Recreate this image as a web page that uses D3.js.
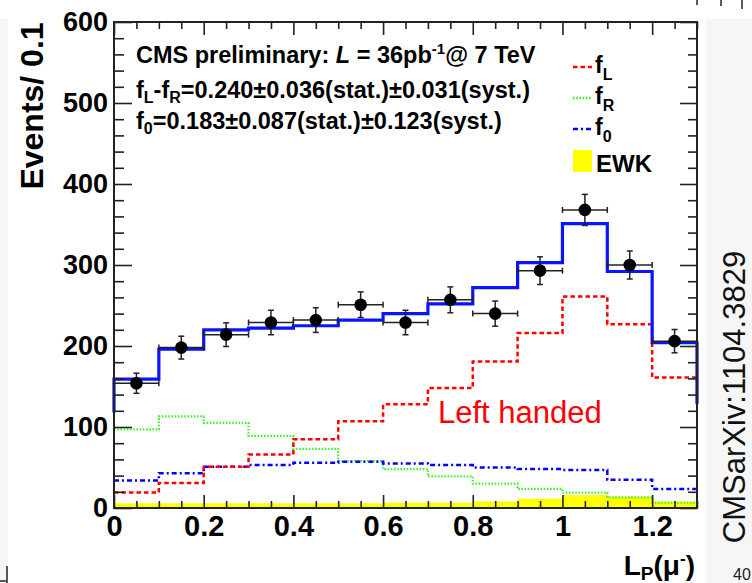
<!DOCTYPE html>
<html>
<head>
<meta charset="utf-8">
<script src="https://cdn.jsdelivr.net/npm/d3@7"></script>
<style>
  html, body { margin: 0; padding: 0; background: #fff; }
  svg { display: block; font-family: "Liberation Sans", Arial, Helvetica, sans-serif; }
</style>
</head>
<body>
<svg id="chart" width="752" height="583"></svg>
<script>
// Bin lower edges of L_P(mu-) (bin width 0.1)
const binEdges = [0, 0.1, 0.2, 0.3, 0.4, 0.5, 0.6, 0.7, 0.8, 0.9, 1.0, 1.1, 1.2];
const binWidth = 0.1;

// Observed events per bin and their statistical errors
const dataValues = [154, 198, 214, 229, 232, 251, 229, 257, 240, 293, 368, 300, 206];
const dataErrors = [12.4, 14.1, 14.6, 15.1, 15.2, 15.8, 15.1, 16.0, 15.5, 17.1, 19.2, 17.3, 14.4];

// Total fitted template, plus the out-of-range neighbours it connects to
const totalValues = [159, 196, 220, 222, 225, 232, 240, 252, 272, 303, 351, 292, 204];
const totalUnderflow = 118;
const totalOverflow = 128;

// Helicity components and electroweak background
const fLValues = [19, 31, 51, 66, 85, 107, 128, 148, 181, 216, 261, 227, 161];
const fRValues = [97, 113, 105, 89, 73, 58, 48, 39, 30, 23.5, 19, 13, 6.5];
const f0Values = [34, 43, 51, 53, 56, 57, 55, 53, 50, 48, 47, 35, 23.5];
const ewkValues = [6, 6, 6, 6, 6, 6, 6.5, 6.5, 8, 11.5, 16, 14, 8];

// Axis ticks
const xMajorTicks = [0, 0.2, 0.4, 0.6, 0.8, 1.0, 1.2];
const xTickLabels = ["0", "0.2", "0.4", "0.6", "0.8", "1", "1.2"];
const yMajorTicks = [0, 100, 200, 300, 400, 500, 600];
const yTickLabels = ["0", "100", "200", "300", "400", "500", "600"];

const svg = d3.select("#chart");
const W = 752, H = 583;
const plot = { left: 114, right: 697, top: 22, bottom: 508 };

const x = d3.scaleLinear().domain([0, 1.3]).range([plot.left, plot.right]);
const y = d3.scaleLinear().domain([0, 600]).range([plot.bottom, plot.top]);

// page furniture: light side strips
svg.append("rect").attr("x", 0).attr("y", 0).attr("width", W).attr("height", H).attr("fill", "#fff");
svg.append("rect").attr("x", 706).attr("y", 19).attr("width", 46).attr("height", H - 19).attr("fill", "#f6f6f6");
svg.append("rect").attr("x", 0).attr("y", 19).attr("width", 8).attr("height", H - 19).attr("fill", "#f6f6f6");
// small cut marks at the page edges
const marks = svg.append("g").attr("stroke", "#222").attr("stroke-width", 1.5);
marks.append("line").attr("x1", 697).attr("x2", 697).attr("y1", 0).attr("y2", 5);
marks.append("line").attr("x1", 721).attr("x2", 721).attr("y1", 0).attr("y2", 6);
marks.append("line").attr("x1", 742).attr("x2", 742).attr("y1", 0).attr("y2", 9);
marks.append("line").attr("x1", 7).attr("x2", 7).attr("y1", 566).attr("y2", 583);
marks.append("line").attr("x1", 0).attr("x2", 6).attr("y1", 581).attr("y2", 581);

// step-shaped histogram points: one point per bin edge, last bin closed at 1.3
function stepPoints(values) {
  const pts = values.map((v, i) => [binEdges[i], v]);
  pts.push([binEdges[binEdges.length - 1] + binWidth, values[values.length - 1]]);
  return pts;
}
const stepLine = d3.line().x(d => x(d[0])).y(d => y(d[1])).curve(d3.curveStepAfter);
const stepArea = d3.area().x(d => x(d[0])).y0(y(0)).y1(d => y(d[1])).curve(d3.curveStepAfter);

const g = svg.append("g");

// EWK background (filled)
g.append("path").attr("d", stepArea(stepPoints(ewkValues)))
  .attr("fill", "#ffff00").attr("stroke", "none");

// helicity components
g.append("path").attr("d", stepLine(stepPoints(fRValues)))
  .attr("fill", "none").attr("stroke", "#44ee33").attr("stroke-width", 2.2)
  .attr("stroke-dasharray", "1.6,1.6");
g.append("path").attr("d", stepLine(stepPoints(f0Values)))
  .attr("fill", "none").attr("stroke", "#0000ff").attr("stroke-width", 2.5)
  .attr("stroke-dasharray", "5,3,2,3");
g.append("path").attr("d", stepLine(stepPoints(fLValues)))
  .attr("fill", "none").attr("stroke", "#ff0000").attr("stroke-width", 2.5)
  .attr("stroke-dasharray", "4.5,3");

// total template
const totalPts = [[0, totalUnderflow]].concat(stepPoints(totalValues));
totalPts.push([1.3, totalOverflow]);
g.append("path").attr("d", stepLine(totalPts))
  .attr("fill", "none").attr("stroke", "#0a14ff").attr("stroke-width", 3.2);

// data points with error bars
const pts = g.append("g");
dataValues.forEach((v, i) => {
  const cx = x(binEdges[i] + binWidth / 2);
  const cy = y(v);
  const e = dataErrors[i];
  const eb = pts.append("g").attr("stroke", "#222").attr("stroke-width", 1.5);
  eb.append("line").attr("x1", x(binEdges[i])).attr("x2", x(binEdges[i] + binWidth)).attr("y1", cy).attr("y2", cy);
  eb.append("line").attr("x1", cx).attr("x2", cx).attr("y1", y(v + e)).attr("y2", y(v - e));
  eb.append("line").attr("x1", cx - 3).attr("x2", cx + 3).attr("y1", y(v + e)).attr("y2", y(v + e));
  eb.append("line").attr("x1", cx - 3).attr("x2", cx + 3).attr("y1", y(v - e)).attr("y2", y(v - e));
  eb.append("line").attr("x1", x(binEdges[i])).attr("x2", x(binEdges[i])).attr("y1", cy - 3).attr("y2", cy + 3);
  eb.append("line").attr("x1", x(binEdges[i] + binWidth)).attr("x2", x(binEdges[i] + binWidth)).attr("y1", cy - 3).attr("y2", cy + 3);
  pts.append("circle").attr("cx", cx).attr("cy", cy).attr("r", 6.3).attr("fill", "#000");
});

// axes: ticks pointing inward on all four sides
const xMinor = d3.range(0, 1.3001, 0.05).map(d => +d.toFixed(2)).filter(d => !xMajorTicks.some(t => Math.abs(t - d) < 1e-6));
const yMinor = d3.range(0, 600.1, 20).filter(d => d % 100 !== 0);

function styleAxis(sel) {
  sel.select(".domain").remove();
  sel.selectAll("line").attr("stroke", "#222").attr("stroke-width", 1.6);
}

const xAxisB = svg.append("g").attr("transform", `translate(0,${plot.bottom})`)
  .call(d3.axisBottom(x).tickValues(xMajorTicks).tickSize(-13).tickPadding(7)
    .tickFormat((d, i) => xTickLabels[i]));
styleAxis(xAxisB);
xAxisB.selectAll("text").attr("font-size", 29).attr("font-weight", "bold")
  .attr("font-family", "'Liberation Sans', Arial, sans-serif").attr("fill", "#000");
const xAxisBm = svg.append("g").attr("transform", `translate(0,${plot.bottom})`)
  .call(d3.axisBottom(x).tickValues(xMinor).tickSize(-7).tickFormat(""));
styleAxis(xAxisBm);
const xAxisT = svg.append("g").attr("transform", `translate(0,${plot.top})`)
  .call(d3.axisTop(x).tickValues(xMajorTicks).tickSize(-13).tickFormat(""));
styleAxis(xAxisT);
const xAxisTm = svg.append("g").attr("transform", `translate(0,${plot.top})`)
  .call(d3.axisTop(x).tickValues(xMinor).tickSize(-7).tickFormat(""));
styleAxis(xAxisTm);

const yAxisL = svg.append("g").attr("transform", `translate(${plot.left},0)`)
  .call(d3.axisLeft(y).tickValues(yMajorTicks).tickSize(-18).tickPadding(6)
    .tickFormat((d, i) => yTickLabels[i]));
styleAxis(yAxisL);
yAxisL.selectAll("text").attr("font-size", 27).attr("font-weight", "bold")
  .attr("font-family", "'Liberation Sans', Arial, sans-serif").attr("fill", "#000");
const yAxisLm = svg.append("g").attr("transform", `translate(${plot.left},0)`)
  .call(d3.axisLeft(y).tickValues(yMinor).tickSize(-10).tickFormat(""));
styleAxis(yAxisLm);
const yAxisR = svg.append("g").attr("transform", `translate(${plot.right},0)`)
  .call(d3.axisRight(y).tickValues(yMajorTicks).tickSize(-17).tickFormat(""));
styleAxis(yAxisR);
const yAxisRm = svg.append("g").attr("transform", `translate(${plot.right},0)`)
  .call(d3.axisRight(y).tickValues(yMinor).tickSize(-9).tickFormat(""));
styleAxis(yAxisRm);

// frame
svg.append("rect").attr("x", plot.left).attr("y", plot.top)
  .attr("width", plot.right - plot.left).attr("height", plot.bottom - plot.top)
  .attr("fill", "none").attr("stroke", "#222").attr("stroke-width", 2);

// axis titles
svg.append("text").attr("transform", "translate(43,106) rotate(-90)")
  .attr("text-anchor", "middle").attr("font-size", 32).attr("font-weight", "bold")
  .text("Events/ 0.1");

const xt = svg.append("text").attr("x", 695).attr("y", 575).attr("text-anchor", "end")
  .attr("font-size", 28).attr("font-weight", "bold");
xt.append("tspan").text("L");
xt.append("tspan").attr("font-size", 19).attr("dy", 5).text("P");
xt.append("tspan").attr("dy", -5).text("(\u03bc");
xt.append("tspan").attr("font-size", 17).attr("dy", -11).text("-");
xt.append("tspan").attr("dy", 11).text(")");

// fit result annotations
const t1 = svg.append("text").attr("x", 136).attr("y", 63).attr("font-size", 23.5).attr("font-weight", "bold");
t1.append("tspan").text("CMS preliminary: ");
t1.append("tspan").attr("font-style", "italic").text("L");
t1.append("tspan").text(" = 36pb");
t1.append("tspan").attr("font-size", 15).attr("dy", -9).text("-1");
t1.append("tspan").attr("dy", 9).text("@ 7 TeV");

const t2 = svg.append("text").attr("x", 136).attr("y", 98).attr("font-size", 23.5).attr("font-weight", "bold");
t2.append("tspan").text("f");
t2.append("tspan").attr("font-size", 16).attr("dy", 5).text("L");
t2.append("tspan").attr("dy", -5).text("-f");
t2.append("tspan").attr("font-size", 16).attr("dy", 5).text("R");
t2.append("tspan").attr("dy", -5).text("=0.240\u00b10.036(stat.)\u00b10.031(syst.)");

const t3 = svg.append("text").attr("x", 136).attr("y", 129).attr("font-size", 23.5).attr("font-weight", "bold");
t3.append("tspan").text("f");
t3.append("tspan").attr("font-size", 16).attr("dy", 5).text("0");
t3.append("tspan").attr("dy", -5).text("=0.183\u00b10.087(stat.)\u00b10.123(syst.)");

// legend
const legendItems = [
  { sub: "L", color: "#ff0000", dash: "4.5,3", y: 67 },
  { sub: "R", color: "#44ee33", dash: "1.6,1.6", y: 98 },
  { sub: "0", color: "#0000ff", dash: "5,3,2,3", y: 129 }
];
const lg = svg.append("g");
legendItems.forEach(it => {
  lg.append("line").attr("x1", 573).attr("x2", 592).attr("y1", it.y).attr("y2", it.y)
    .attr("stroke", it.color).attr("stroke-width", 2.5).attr("stroke-dasharray", it.dash);
  const t = lg.append("text").attr("x", 595).attr("y", it.y + 6).attr("font-size", 23).attr("font-weight", "bold");
  t.append("tspan").text("f");
  t.append("tspan").attr("font-size", 16).attr("dy", 7).text(it.sub);
});
lg.append("rect").attr("x", 573).attr("y", 150).attr("width", 19).attr("height", 22).attr("fill", "#ffff00");
lg.append("text").attr("x", 596).attr("y", 172).attr("font-size", 24).attr("font-weight", "bold").text("EWK");

// annotation
svg.append("text").attr("x", 438).attr("y", 423).attr("font-size", 31).attr("fill", "#ff0000").text("Left handed");

// side panel text
svg.append("text").attr("transform", "translate(745,397) rotate(-90)")
  .attr("text-anchor", "middle").attr("font-size", 31).attr("fill", "#111").text("CMSarXiv:1104.3829");
svg.append("text").attr("x", 733).attr("y", 580).attr("font-size", 16).attr("fill", "#222").text("40");
</script>
</body>
</html>
